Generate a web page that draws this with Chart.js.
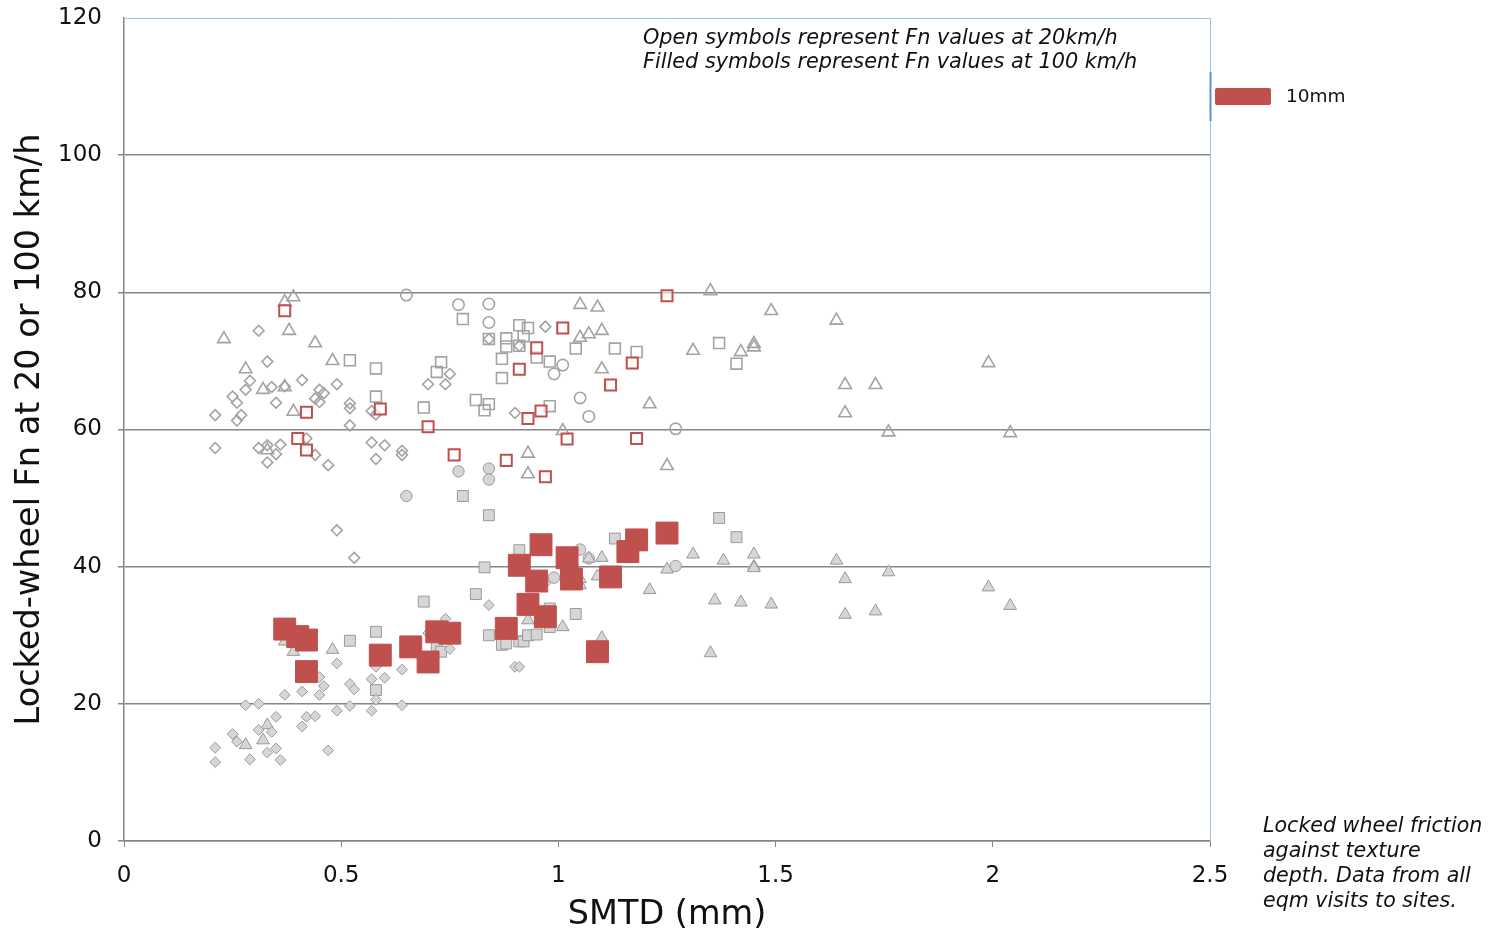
<!DOCTYPE html>
<html>
<head>
<meta charset="utf-8">
<script src="https://cdn.jsdelivr.net/npm/chart.js@4.4.1/dist/chart.umd.min.js"></script>
<style>
  html, body { margin: 0; padding: 0; background: #fff; }
  #wrap { width: 1489px; height: 938px; }
</style>
</head>
<body>
<div id="wrap"><canvas id="fnChart" width="1489" height="938"></canvas></div>
<script>
// ----- data: [SMTD mm, Fn] -----
const xTicks = [0, 0.5, 1, 1.5, 2, 2.5];
const yTicks = [0, 20, 40, 60, 80, 100, 120];

// 20 km/h (open symbols)
const openDiamonds = [
  [0.31,74.4],[0.33,69.9],[0.29,67.1],[0.28,65.8],[0.34,66.2],[0.37,66.3],[0.41,67.2],[0.49,66.6],
  [0.45,65.8],[0.46,65.3],[0.44,64.5],[0.45,64.0],[0.25,64.8],[0.26,63.9],[0.35,63.9],[0.70,66.6],
  [0.74,66.6],[0.75,68.1],[0.52,63.8],[0.52,63.1],[0.57,62.7],[0.58,62.2],[0.21,62.1],[0.27,62.1],
  [0.26,61.3],[0.52,60.6],[0.21,57.3],[0.31,57.3],[0.33,57.7],[0.36,57.8],[0.35,56.4],[0.33,55.2],
  [0.42,58.7],[0.44,56.3],[0.47,54.8],[0.57,58.1],[0.60,57.7],[0.58,55.7],[0.64,56.9],[0.64,56.3],
  [0.84,73.2],[0.91,72.2],[0.97,75.0],[0.90,62.4],[0.49,45.3],[0.53,41.3]
];
const openTriangles = [
  [0.37,78.6],[0.39,79.3],[0.38,74.4],[0.23,73.2],[0.44,72.6],[0.48,70.0],[0.28,68.8],[0.32,65.8],
  [0.37,66.2],[0.39,62.6],[0.33,57.0],[1.05,78.2],[1.09,77.8],[1.05,73.4],[1.07,73.9],[1.10,74.4],
  [1.10,68.8],[1.01,59.8],[0.93,56.5],[0.93,53.5],[1.21,63.7],[1.25,54.7],[1.31,71.5],[1.35,80.2],
  [1.42,71.3],[1.45,72.5],[1.45,72.0],[1.49,77.3],[1.64,75.9],[1.66,66.5],[1.73,66.5],[1.66,62.4],
  [1.76,59.6],[1.99,69.7],[2.04,59.5]
];
const openSquares = [
  [0.52,70.1],[0.58,68.9],[0.58,64.8],[0.69,63.2],[0.72,68.4],[0.73,69.8],[0.78,76.1],[0.81,64.3],
  [0.83,62.8],[0.84,63.7],[0.84,73.2],[0.87,70.3],[0.87,67.5],[0.88,73.3],[0.88,72.1],[0.91,75.2],
  [0.93,74.8],[0.92,73.6],[0.91,72.2],[0.95,70.5],[0.98,69.9],[0.98,63.4],[1.04,71.8],[1.13,71.8],
  [1.18,71.3],[1.37,72.6],[1.41,69.6]
];
const openCircles = [
  [0.65,79.6],[0.77,78.2],[0.84,78.3],[0.84,75.6],[1.01,69.4],[0.99,68.1],[1.05,64.6],[1.07,61.9],
  [1.27,60.1]
];
const open10mm = [
  [0.37,77.3],[0.42,62.5],[0.59,63.0],[0.40,58.7],[0.42,57.0],[0.70,60.4],[0.76,56.3],[0.88,55.5],
  [0.91,68.8],[0.93,61.6],[0.95,71.9],[0.96,62.7],[0.97,53.1],[1.01,74.8],[1.02,58.6],[1.12,66.5],
  [1.17,69.7],[1.18,58.7],[1.25,79.5]
];

// 100 km/h (filled symbols)
const filledDiamonds = [
  [0.21,13.6],[0.21,11.5],[0.25,15.6],[0.26,14.5],[0.29,11.9],[0.31,16.2],[0.34,15.9],[0.35,18.1],
  [0.35,13.5],[0.33,12.9],[0.36,11.8],[0.28,19.8],[0.31,20.0],[0.37,21.3],[0.41,21.8],[0.42,18.1],
  [0.44,18.2],[0.41,16.7],[0.45,23.9],[0.46,22.6],[0.45,21.3],[0.47,13.2],[0.49,25.9],[0.49,19.0],
  [0.52,22.9],[0.53,22.1],[0.52,19.7],[0.57,23.6],[0.60,23.8],[0.57,19.0],[0.58,25.4],[0.58,20.6],
  [0.64,25.0],[0.64,19.8],[0.70,30.3],[0.74,32.4],[0.75,28.0],[0.84,34.4],[0.90,25.4],[0.91,25.4],
  [0.97,37.6]
];
const filledTriangles = [
  [0.37,29.1],[0.39,27.6],[0.48,27.9],[0.33,16.9],[0.32,14.7],[0.28,14.0],[0.93,32.2],[1.01,31.2],
  [1.05,38.2],[1.05,37.3],[1.09,38.6],[1.10,41.3],[1.07,41.2],[1.10,29.6],[1.21,36.6],[1.25,39.6],
  [1.31,41.8],[1.35,27.4],[1.36,35.1],[1.38,40.9],[1.42,34.8],[1.45,41.8],[1.45,40.0],[1.45,39.8],
  [1.49,34.5],[1.64,40.9],[1.66,38.2],[1.66,33.0],[1.73,33.5],[1.76,39.2],[1.99,37.0],[2.04,34.3]
];
const filledSquares = [
  [0.52,29.2],[0.58,30.5],[0.58,22.0],[0.69,34.9],[0.72,28.5],[0.73,27.6],[0.78,50.3],[0.81,36.0],
  [0.83,39.9],[0.84,47.5],[0.84,30.0],[0.87,28.6],[0.88,28.8],[0.91,42.4],[0.91,29.1],[0.92,29.1],
  [0.93,30.0],[0.95,30.1],[0.98,31.2],[0.98,33.9],[1.04,33.1],[1.13,44.1],[1.37,47.1],[1.41,44.3]
];
const filledCircles = [
  [0.65,50.3],[0.77,53.9],[0.84,54.3],[0.84,52.7],[0.99,38.4],[1.05,42.5],[1.07,41.2],[1.27,40.1]
];
const filled10mm = [
  [0.37,30.9],[0.40,29.8],[0.42,29.3],[0.42,24.7],[0.59,27.1],[0.66,28.3],[0.70,26.1],[0.72,30.5],
  [0.75,30.3],[0.88,31.0],[0.91,40.2],[0.93,34.5],[0.96,43.2],[0.95,37.9],[0.97,32.7],[1.02,41.3],
  [1.03,38.2],[1.09,27.6],[1.12,38.5],[1.16,42.2],[1.18,43.9],[1.25,44.9]
];

const FONT = '"DejaVu Sans", Verdana, sans-serif';
const GREY = '#a3a3a3';
const FILL = '#d6d6d6';
const RED = '#c0504d';

const toPts = arr => arr.map(p => ({ x: p[0], y: p[1] }));

function series(label, arr, style, radius, bg, border, width) {
  return {
    label: label,
    data: toPts(arr),
    pointStyle: style,
    pointRadius: radius,
    pointHoverRadius: radius,
    backgroundColor: bg,
    borderColor: border,
    pointBorderWidth: width,
    showLine: false
  };
}

// first dataset is painted last (on top)
const datasets = [
  series('10mm', filled10mm, 'rect', 15.5, RED, RED, 1),
  series('10mm 20', open10mm, 'rect', 7.8, 'rgba(255,255,255,0.6)', RED, 2),
  series('fd', filledDiamonds, 'rectRot', 5.4, FILL, '#9a9a9a', 1),
  series('ft', filledTriangles, 'triangle', 7.3, FILL, '#999999', 1),
  series('fs', filledSquares, 'rect', 7.7, FILL, '#9a9a9a', 1),
  series('fc', filledCircles, 'circle', 5.7, FILL, '#9a9a9a', 1),
  series('od', openDiamonds, 'rectRot', 5.4, 'rgba(255,255,255,0)', GREY, 1.6),
  series('ot', openTriangles, 'triangle', 7.3, 'rgba(255,255,255,0)', GREY, 1.6),
  series('os', openSquares, 'rect', 7.7, 'rgba(255,255,255,0)', GREY, 1.6),
  series('oc', openCircles, 'circle', 5.7, 'rgba(255,255,255,0)', GREY, 1.6)
];

// notes, legend and frame drawn on top of the chart
const extras = {
  id: 'extras',
  afterDraw(chart) {
    const ctx = chart.ctx;
    const a = chart.chartArea;
    ctx.save();
    // top / right frame
    ctx.strokeStyle = '#9dc3e6';
    ctx.lineWidth = 1;
    ctx.beginPath();
    ctx.moveTo(a.left, a.top + 0.5);
    ctx.lineTo(a.right + 0.5, a.top + 0.5);
    ctx.lineTo(a.right + 0.5, a.bottom);
    ctx.stroke();
    ctx.strokeStyle = '#5b8fd0';
    ctx.lineWidth = 2;
    ctx.beginPath();
    ctx.moveTo(a.right + 0.5, 72);
    ctx.lineTo(a.right + 0.5, 121);
    ctx.stroke();

    // legend
    ctx.fillStyle = RED;
    ctx.beginPath();
    ctx.roundRect(1215, 88, 56, 17, 2);
    ctx.fill();
    ctx.fillStyle = '#111';
    ctx.font = '18.5px ' + FONT;
    ctx.textBaseline = 'middle';
    ctx.textAlign = 'left';
    ctx.fillText('10mm', 1286, 97);

    // notes
    ctx.font = 'italic 20.8px ' + FONT;
    ctx.fillText('Open symbols represent Fn values at 20km/h', 643, 39);
    ctx.fillText('Filled symbols represent Fn values at 100 km/h', 643, 63);
    ctx.font = 'italic 20.6px ' + FONT;
    const note = ['Locked wheel friction', 'against texture', 'depth. Data from all', 'eqm visits to sites.'];
    note.forEach((t, i) => ctx.fillText(t, 1263, 827 + i * 25));
    ctx.restore();
  }
};

const ctx = document.getElementById('fnChart').getContext('2d');
new Chart(ctx, {
  type: 'scatter',
  data: { datasets: datasets },
  options: {
    responsive: false,
    animation: false,
    events: [],
    layout: { padding: { left: 0, right: 279, top: 18, bottom: 0 } },
    plugins: {
      legend: { display: false },
      tooltip: { enabled: false }
    },
    scales: {
      x: {
        type: 'linear',
        min: 0,
        max: 2.5,
        afterFit: s => { s.height = 97; s.paddingLeft = 0; s.paddingRight = 0; },
        afterBuildTicks: s => { s.ticks = xTicks.map(v => ({ value: v })); },
        ticks: {
          color: '#111',
          font: { family: FONT, size: 23 },
          padding: 15,
          maxRotation: 0,
          callback: v => String(v)
        },
        grid: { drawOnChartArea: false, color: '#868686', tickLength: 6 },
        border: { color: '#868686', width: 1.5 },
        title: {
          display: true,
          text: 'SMTD (mm)',
          color: '#111',
          font: { family: FONT, size: 33.5 },
          padding: { top: 0, bottom: 3 }
        }
      },
      y: {
        type: 'linear',
        min: 0,
        max: 120,
        afterFit: s => { s.width = 124; s.paddingTop = 0; s.paddingBottom = 0; },
        afterBuildTicks: s => { s.ticks = yTicks.map(v => ({ value: v })); },
        ticks: { color: '#111', font: { family: FONT, size: 23 }, padding: 16 },
        grid: {
          color: c => (c.tick && c.tick.value === 120) ? 'rgba(0,0,0,0)' : '#868686',
          lineWidth: 1.5,
          tickLength: 6
        },
        border: { color: '#868686', width: 1.5 },
        title: {
          display: true,
          text: 'Locked-wheel Fn at 20 or 100 km/h',
          color: '#111',
          font: { family: FONT, size: 33.5 },
          padding: { top: 10, bottom: 0 }
        }
      }
    }
  },
  plugins: [extras]
});
</script>
</body>
</html>
